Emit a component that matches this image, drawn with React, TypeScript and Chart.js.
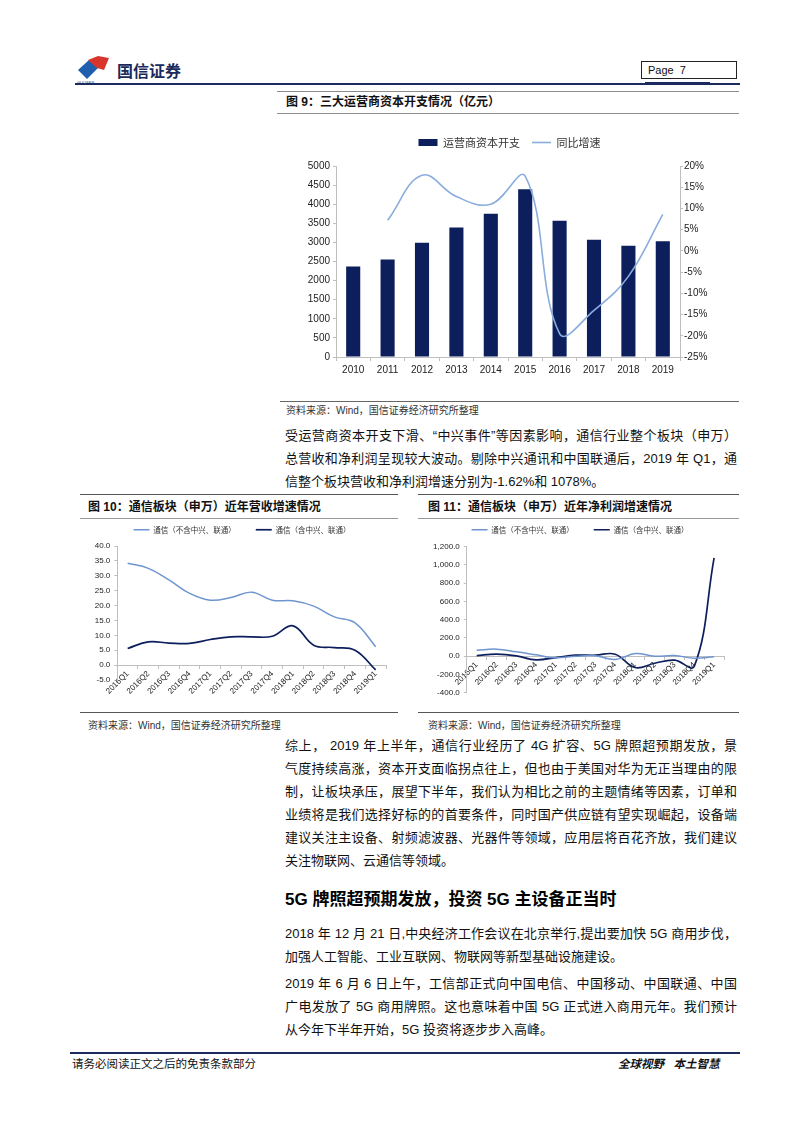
import React, { useEffect, useRef } from 'react';
import { Chart, registerables } from 'chart.js';
Chart.register(...registerables);

// ---------- data ----------
const YEARS = ['2010', '2011', '2012', '2013', '2014', '2015', '2016', '2017', '2018', '2019'];
const CAPEX = [2370, 2550, 2990, 3390, 3750, 4390, 3570, 3070, 2915, 3030];
const CAPEX_YOY = [null, 7.2, 17.8, 12.8, 11.0, 17.6, -19.5, -14.0, -6.0, 8.6];
const CAPEX_LEFT = { min: 0, max: 5000, step: 500 };
const CAPEX_RIGHT = { min: -25, max: 20, step: 5 };

const QUARTERS = ['2016Q1', '2016Q2', '2016Q3', '2016Q4', '2017Q1', '2017Q2', '2017Q3', '2017Q4', '2018Q1', '2018Q2', '2018Q3', '2018Q4', '2019Q1'];
const REV_EXCL = [34.2, 32.5, 28.6, 24.1, 21.8, 22.7, 24.5, 21.8, 21.6, 19.8, 16.2, 14.2, 6.2];
const REV_INCL = [5.6, 7.8, 7.4, 7.3, 8.6, 9.5, 9.5, 9.7, 13.2, 6.7, 5.9, 5.0, -1.62];
const REV_AXIS = { min: -5, max: 40, step: 5 };
const NP_EXCL = [66, 77, 48, 15, -18, 0, 4, -37, 29, 0, 7, -22, -7];
const NP_INCL = [7, 22, 4, -40, -15, 11, 11, 22, -124, -77, -44, -110, 1078];
const NP_AXIS = { min: -400, max: 1200, step: 200 };

const SERIES_A = '通信（不含中兴、联通）';
const SERIES_B = '通信（含中兴、联通）';

// ---------- styles ----------
const SANS = '"Liberation Sans", Arial, sans-serif';
const CJK = '"Noto Sans CJK SC", sans-serif';
const TEXT = '"Liberation Sans", "Noto Sans CJK SC", sans-serif';
const AXIS_GREY = '#bfbfbf';
const TICK_COLOR = '#222';
const NAVY = '#0c1f5c';
const LIGHT = '#8aaddd';
const MID = '#6f95cf';

// fixes the legend's height and shifts it sideways
function legendTweak(h: number, dx: number) {
  return {
    id: 'legendTweak',
    afterInit(chart: any) {
      const lg = chart.legend;
      if (!lg) return;
      const origFit = lg.fit;
      lg.fit = function () {
        origFit.call(this);
        this.height = h;
      };
      const origDraw = lg.draw;
      lg.draw = function () {
        const ctx = this.ctx;
        ctx.save();
        ctx.translate(dx, 0);
        origDraw.call(this);
        ctx.restore();
      };
    },
  };
}

function genLabels(chart: any) {
  const base = (Chart.defaults as any).plugins.legend.labels.generateLabels(chart);
  return base.map((it: any) => {
    const ds: any = chart.data.datasets[it.datasetIndex];
    const isLine = (ds.type || chart.config.type) === 'line';
    return {
      ...it,
      pointStyle: isLine ? 'line' : 'rect',
      strokeStyle: ds.borderColor,
      fillStyle: isLine ? ds.borderColor : ds.backgroundColor,
      lineWidth: isLine ? ds.legendWidth || 1.5 : 0,
    };
  });
}

const tickFont = (size: number) => ({ family: SANS, size });

function capexConfig(): any {
  return {
    type: 'bar',
    data: {
      labels: YEARS,
      datasets: [
        {
          type: 'bar',
          label: '运营商资本开支',
          data: CAPEX,
          backgroundColor: NAVY,
          yAxisID: 'y',
          order: 2,
          categoryPercentage: 1,
          barPercentage: 0.41,
        },
        {
          type: 'line',
          label: '同比增速',
          data: CAPEX_YOY,
          borderColor: LIGHT,
          backgroundColor: LIGHT,
          borderWidth: 1.6,
          pointRadius: 0,
          tension: 0.4,
          yAxisID: 'y1',
          order: 1,
          clip: false,
          legendWidth: 1.6,
        },
      ],
    },
    options: {
      responsive: false,
      animation: false,
      layout: { padding: { left: 4, right: 0, top: 0, bottom: 0 } },
      plugins: {
        tooltip: { enabled: false },
        legend: {
          position: 'top',
          labels: {
            usePointStyle: true,
            pointStyleWidth: 19,
            boxHeight: 7,
            padding: 12,
            color: '#333',
            font: { family: CJK, size: 11 },
            generateLabels: genLabels,
            sort: (a: any, b: any) => a.datasetIndex - b.datasetIndex,
          },
        },
      },
      scales: {
        x: {
          grid: { offset: true, drawOnChartArea: false, drawTicks: true, tickLength: 4, color: AXIS_GREY },
          border: { color: AXIS_GREY },
          ticks: { color: TICK_COLOR, font: tickFont(10), padding: 3, maxRotation: 0, autoSkip: false },
          afterFit: (s: any) => { s.height = 28; },
        },
        y: {
          position: 'left',
          min: CAPEX_LEFT.min,
          max: CAPEX_LEFT.max,
          ticks: { stepSize: CAPEX_LEFT.step, color: TICK_COLOR, font: tickFont(10), padding: 3, callback: (v: any) => String(v) },
          grid: { drawOnChartArea: false, tickLength: 3, color: AXIS_GREY },
          border: { color: AXIS_GREY },
          afterFit: (s: any) => { s.width = 56; },
        },
        y1: {
          position: 'right',
          min: CAPEX_RIGHT.min,
          max: CAPEX_RIGHT.max,
          ticks: { stepSize: CAPEX_RIGHT.step, color: TICK_COLOR, font: tickFont(10), padding: 1, callback: (v: any) => v + '%' },
          grid: { drawOnChartArea: false, tickLength: 3, color: AXIS_GREY },
          border: { color: AXIS_GREY },
          afterFit: (s: any) => { s.width = 59; },
        },
      },
    },
    plugins: [legendTweak(41, 0)],
  };
}

function quarterConfig(a: number[], b: number[], axis: any, fmt: (v: number) => string, pad: any, yWidth: number, legH: number, dx: number): any {
  return {
    type: 'line',
    data: {
      labels: QUARTERS,
      datasets: [
        { label: SERIES_A, data: a, borderColor: MID, backgroundColor: MID, borderWidth: 1.5, pointRadius: 0, tension: 0.4, legendWidth: 1.5 },
        { label: SERIES_B, data: b, borderColor: NAVY, backgroundColor: NAVY, borderWidth: 1.7, pointRadius: 0, tension: 0.4, legendWidth: 1.7 },
      ],
    },
    options: {
      responsive: false,
      animation: false,
      layout: { padding: pad },
      plugins: {
        tooltip: { enabled: false },
        legend: {
          position: 'top',
          labels: {
            usePointStyle: true,
            pointStyleWidth: 16,
            boxHeight: 7.5,
            padding: 20,
            color: '#333',
            font: { family: CJK, size: 7.5 },
            generateLabels: genLabels,
          },
        },
      },
      scales: {
        x: {
          position: { y: 0 },
          offset: true,
          grid: { offset: true, drawOnChartArea: false, drawTicks: true, tickLength: 3, color: AXIS_GREY },
          border: { color: AXIS_GREY },
          ticks: { color: TICK_COLOR, font: tickFont(8), minRotation: 45, maxRotation: 45, autoSkip: false, padding: 1 },
        },
        y: {
          min: axis.min,
          max: axis.max,
          ticks: { stepSize: axis.step, color: TICK_COLOR, font: tickFont(8), padding: 4, callback: (v: any) => fmt(Number(v)) },
          grid: { drawOnChartArea: false, tickLength: 3, color: AXIS_GREY },
          border: { color: AXIS_GREY },
          afterFit: (s: any) => { s.width = yWidth; },
        },
      },
    },
    plugins: [legendTweak(legH, dx)],
  };
}

function ChartBox({ left, top, width, height, make }: any) {
  const ref = useRef<HTMLCanvasElement>(null);
  useEffect(() => {
    const c = new Chart(ref.current as HTMLCanvasElement, make());
    return () => c.destroy();
  }, []);
  return (
    <canvas
      ref={ref}
      width={width}
      height={height}
      style={{ position: 'absolute', left, top, width, height }}
    />
  );
}

// ---------- page helpers ----------
function Rule({ x1, x2, y, color = '#999', h = 1 }: any) {
  return <div style={{ position: 'absolute', left: x1, top: y, width: x2 - x1, height: h, background: color }} />;
}

function Txt({ x, y, w, size = 13, bold = false, italic = false, justify = false, family = TEXT, color = '#111', children }: any) {
  const lh = Math.round(size * 1.5);
  return (
    <div
      style={{
        position: 'absolute',
        left: x,
        top: y - lh / 2,
        width: w,
        height: lh,
        lineHeight: lh + 'px',
        fontSize: size,
        fontWeight: bold ? 700 : 400,
        fontStyle: italic ? 'italic' : 'normal',
        fontFamily: family,
        color,
        whiteSpace: 'nowrap',
        textAlign: justify ? 'justify' : 'left',
        textAlignLast: justify ? 'justify' : 'auto',
      } as any}
    >
      {children}
    </div>
  );
}

const PARA1 = [
  '受运营商资本开支下滑、“中兴事件”等因素影响，通信行业整个板块（申万）',
  '总营收和净利润呈现较大波动。剔除中兴通讯和中国联通后，2019 年 Q1，通',
  '信整个板块营收和净利润增速分别为-1.62%和 1078%。',
];
const PARA2 = [
  '综上， 2019 年上半年，通信行业经历了 4G 扩容、5G 牌照超预期发放，景',
  '气度持续高涨，资本开支面临拐点往上，但也由于美国对华为无正当理由的限',
  '制，让板块承压，展望下半年，我们认为相比之前的主题情绪等因素，订单和',
  '业绩将是我们选择好标的的首要条件，同时国产供应链有望实现崛起，设备端',
  '建议关注主设备、射频滤波器、光器件等领域，应用层将百花齐放，我们建议',
  '关注物联网、云通信等领域。',
];
const PARA3 = [
  '2018 年 12 月 21 日,中央经济工作会议在北京举行,提出要加快 5G 商用步伐，',
  '加强人工智能、工业互联网、物联网等新型基础设施建设。',
];
const PARA4 = [
  '2019 年 6 月 6 日上午，工信部正式向中国电信、中国移动、中国联通、中国',
  '广电发放了 5G 商用牌照。这也意味着中国 5G 正式进入商用元年。我们预计',
  '从今年下半年开始，5G 投资将逐步步入高峰。',
];

function Paragraph({ lines, y0, step = 23 }: any) {
  return (
    <>
      {lines.map((t: string, i: number) => (
        <Txt key={i} x={285} y={y0 + i * step} w={452} size={13} justify={i < lines.length - 1}>
          {t}
        </Txt>
      ))}
    </>
  );
}

const SOURCE = '资料来源：Wind，国信证券经济研究所整理';

export default function App() {
  return (
    <div style={{ position: 'absolute', left: 0, top: 0, width: 802, height: 1133, background: '#fff', overflow: 'hidden' }}>
      {/* header */}
      <svg style={{ position: 'absolute', left: 76, top: 55 }} width={40} height={30}>
        <polygon points="2,15 13,5 22,13 11,24" fill="#1f5fae" />
        <polygon points="12,5 22,1 33,3 28,15 21,13" fill="#d8362c" />
        <text x={1} y={29} fontSize={4} fill="#1f3f7a" fontFamily={SANS}>GUOSEN</text>
      </svg>
      <Txt x={117} y={70} size={16} bold family={CJK} color="#1a2a5c">国信证券</Txt>
      <div style={{ position: 'absolute', left: 641, top: 61, width: 96, height: 18, border: '1px solid #222', boxSizing: 'border-box' }} />
      <Txt x={648} y={70} size={11} family={SANS} color="#111">Page&nbsp;&nbsp;7</Txt>
      <Rule x1={75} x2={740} y={83} color="#1c2b5e" h={1.5} />
      <Rule x1={645} x2={710} y={82} color="#1c2b5e" h={2.5} />

      {/* figure 9 */}
      <Rule x1={277} x2={739} y={91} color="#8c8c8c" />
      <Txt x={286} y={102} size={12} bold family={TEXT} color="#111">图 9：三大运营商资本开支情况（亿元）</Txt>
      <Rule x1={277} x2={739} y={113} color="#8c8c8c" />
      <ChartBox left={276} top={125} width={463} height={260} make={capexConfig} />
      <Rule x1={280} x2={739} y={401} color="#666" />
      <Txt x={286} y={410} size={10} color="#333">{SOURCE}</Txt>

      <Paragraph lines={PARA1} y0={436} />

      {/* figure 10 */}
      <Rule x1={80} x2={398} y={494} color="#555" />
      <Txt x={88} y={507} size={12} bold color="#111">图 10：通信板块（申万）近年营收增速情况</Txt>
      <Rule x1={80} x2={398} y={518} color="#999" />
      <ChartBox
        left={80}
        top={506}
        width={318}
        height={204}
        make={() => quarterConfig(REV_EXCL, REV_INCL, REV_AXIS, (v) => v.toFixed(1), { left: 0, right: 12, top: 0, bottom: 30 }, 37.3, 40, 9)}
      />
      <Rule x1={80} x2={398} y={712} color="#555" />
      <Txt x={88} y={725} size={10} color="#333">{SOURCE}</Txt>

      {/* figure 11 */}
      <Rule x1={418} x2={739} y={494} color="#555" />
      <Txt x={428} y={507} size={12} bold color="#111">图 11：通信板块（申万）近年净利润增速情况</Txt>
      <Rule x1={418} x2={739} y={518} color="#999" />
      <ChartBox
        left={418}
        top={506}
        width={321}
        height={204}
        make={() =>
          quarterConfig(
            NP_EXCL,
            NP_INCL,
            NP_AXIS,
            (v) => v.toLocaleString('en-US', { minimumFractionDigits: 1, maximumFractionDigits: 1 }),
            { left: 0, right: 15, top: 0, bottom: 17.3 },
            48.8,
            40.7,
            9,
          )
        }
      />
      <Rule x1={418} x2={739} y={712} color="#555" />
      <Txt x={428} y={725} size={10} color="#333">{SOURCE}</Txt>

      <Paragraph lines={PARA2} y0={746} />

      <Txt x={285} y={900} size={17} bold family={TEXT} color="#000">5G 牌照超预期发放，投资 5G 主设备正当时</Txt>

      <Paragraph lines={PARA3} y0={934} />
      <Paragraph lines={PARA4} y0={984} />

      {/* footer */}
      <Rule x1={70} x2={740} y={1052} color="#1c2b5e" h={1.5} />
      <Txt x={72} y={1064} size={11.5} color="#111">请务必阅读正文之后的免责条款部分</Txt>
      <Txt x={618} y={1064} size={11.5} bold italic color="#111">全球视野&nbsp;&nbsp;&nbsp;本土智慧</Txt>
    </div>
  );
}
